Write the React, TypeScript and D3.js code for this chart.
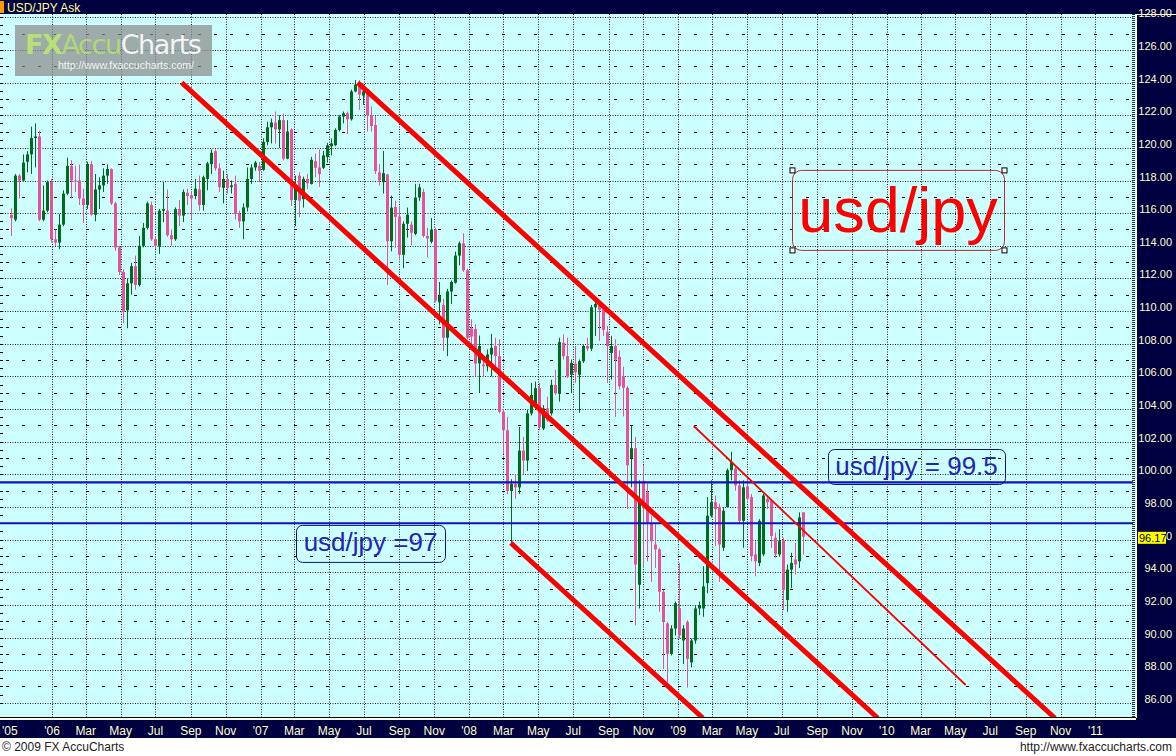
import React from 'react';
import * as d3 from 'd3';

// weekly USD/JPY ask candles, first week ending 21 Oct 2005
const firstWeek = Date.UTC(2005, 9, 21);

const opens = [
  115.9, 115.6, 118.3, 118.0, 119.15, 119.6, 120.6, 120.7, 115.6, 116.15,
  117.9, 114.4, 114.2, 115.3, 117.2, 118.9, 118.0, 118.0, 116.9, 116.5,
  119.0, 115.9, 117.45, 117.7, 118.3, 118.7, 116.6, 113.9, 112.4, 110.05,
  111.7, 112.75, 111.6, 114.0, 115.1, 116.5, 114.4, 114.0, 116.15, 116.15,
  114.65, 114.4, 116.25, 115.85, 117.25, 117.1, 117.05, 117.45, 116.5, 118.1,
  119.0, 119.8, 118.75, 117.55, 118.1, 117.6, 117.8, 115.95, 115.5, 116.35,
  118.1, 118.8, 118.9, 118.65, 120.37, 121.26, 121.55, 121.13, 121.7, 119.34,
  121.13, 116.8, 118.3, 116.86, 118.1, 117.79, 119.19, 118.8, 118.78, 119.44,
  120.1, 120.16, 121.1, 121.92, 122.12, 121.75, 123.46, 123.88, 123.2, 123.4,
  122.0, 121.4, 118.5, 117.9, 118.37, 114.28, 116.38, 115.8, 113.45, 115.35,
  115.3, 114.73, 116.96, 117.3, 114.6, 114.25, 115.0, 110.54, 110.37, 108.37,
  111.2, 111.74, 113.4, 114.15, 112.5, 108.93, 108.9, 106.8, 106.72, 106.62,
  107.34, 107.86, 107.24, 103.83, 102.7, 98.98, 99.4, 99.2, 101.45, 100.84,
  103.73, 104.24, 105.28, 102.8, 104.04, 103.73, 105.48, 104.93, 108.06, 107.24,
  106.1, 106.78, 106.1, 106.93, 107.86, 107.7, 110.23, 110.44, 110.1, 108.7,
  107.44, 107.86, 107.2, 106.0, 105.3, 100.97, 101.6, 93.23, 99.6, 98.9,
  97.05, 95.7, 95.4, 92.8, 90.86, 89.0, 90.55, 91.8, 89.82, 90.96,
  88.48, 89.82, 91.78, 91.78, 93.33, 97.46, 98.29, 98.0, 95.5, 98.0,
  100.25, 100.35, 99.32, 97.15, 99.26, 98.6, 95.09, 94.57, 95.1, 98.49,
  98.39, 96.12, 95.09, 95.95, 92.3, 94.16, 94.78, 94.67, 97.67,
];

const highs = [
  116.3, 118.4, 118.4, 119.6, 119.8, 121.3, 121.5, 121.05, 117.7, 118.0,
  118.1, 115.0, 115.95, 117.4, 119.4, 119.25, 118.9, 118.98, 117.5, 119.15,
  119.2, 118.4, 118.2, 118.75, 118.98, 118.75, 116.7, 114.0, 112.55, 112.0,
  112.95, 113.4, 114.6, 115.4, 116.7, 116.7, 114.6, 116.25, 117.9, 117.45,
  115.0, 116.35, 116.8, 117.45, 117.5, 117.3, 118.1, 118.3, 118.3, 119.15,
  119.9, 119.9, 119.05, 118.6, 118.4, 118.0, 118.3, 116.15, 116.6, 118.8,
  119.0, 119.2, 119.13, 120.58, 121.6, 121.8, 122.23, 122.0, 122.1, 121.7,
  121.2, 118.3, 118.5, 118.24, 118.4, 119.44, 119.65, 119.9, 119.81, 120.3,
  120.58, 121.2, 122.0, 122.23, 122.23, 123.57, 124.15, 124.15, 123.6, 123.46,
  122.54, 121.96, 119.0, 119.81, 118.4, 117.07, 116.76, 116.45, 115.5, 116.34,
  115.5, 117.8, 117.8, 117.5, 115.1, 115.7, 115.1, 111.78, 110.75, 111.36,
  111.88, 113.64, 114.26, 114.77, 112.6, 109.5, 109.2, 108.5, 107.24, 107.65,
  108.6, 108.37, 108.27, 104.0, 103.52, 99.7, 100.0, 102.9, 102.3, 103.94,
  105.6, 105.69, 105.6, 104.24, 104.76, 105.8, 106.4, 108.37, 108.58, 108.37,
  107.03, 107.86, 107.03, 107.96, 108.37, 110.37, 110.75, 110.64, 110.17, 109.1,
  108.48, 108.27, 107.6, 106.6, 105.4, 103.0, 102.3, 99.63, 100.56, 99.42,
  97.46, 96.94, 95.5, 92.92, 90.96, 90.75, 92.2, 94.57, 90.75, 91.06,
  89.93, 91.99, 92.2, 94.37, 98.6, 99.63, 98.7, 98.2, 97.98, 100.35,
  101.38, 100.45, 99.63, 99.63, 99.83, 98.8, 95.9, 97.25, 98.8, 98.7,
  98.49, 96.43, 96.64, 96.12, 94.47, 95.19, 95.8, 97.67, 97.67,
];

const lows = [
  114.6, 115.5, 116.9, 117.95, 118.5, 118.4, 118.8, 115.5, 115.5, 116.05,
  114.2, 114.0, 113.8, 115.2, 117.1, 116.9, 117.3, 116.5, 115.4, 116.25,
  115.85, 115.5, 116.25, 117.3, 117.8, 116.5, 113.7, 112.2, 109.25, 108.95,
  111.0, 111.3, 111.5, 113.9, 115.0, 114.3, 113.8, 113.5, 115.45, 114.55,
  114.0, 114.3, 115.2, 115.45, 116.5, 115.6, 116.85, 116.15, 116.15, 117.4,
  118.4, 118.6, 117.3, 116.6, 117.2, 117.2, 115.6, 115.1, 114.4, 116.1,
  117.8, 118.6, 117.9, 118.6, 120.16, 120.27, 120.27, 120.0, 119.23, 119.3,
  116.45, 115.2, 115.77, 116.34, 117.48, 117.75, 118.2, 117.6, 118.7, 119.1,
  119.54, 120.1, 121.0, 121.5, 120.84, 121.67, 123.4, 122.33, 122.64, 121.0,
  121.0, 118.4, 117.69, 117.2, 111.6, 113.66, 113.87, 113.1, 112.63, 114.5,
  114.03, 114.65, 116.76, 114.5, 113.3, 114.15, 110.54, 109.2, 107.55, 107.24,
  110.44, 111.68, 112.81, 112.4, 108.27, 107.86, 106.0, 104.97, 106.0, 106.3,
  106.0, 106.4, 103.73, 101.25, 98.78, 95.8, 98.5, 98.8, 100.0, 100.2,
  103.6, 104.14, 102.7, 102.7, 103.2, 103.6, 104.86, 104.45, 107.03, 105.9,
  104.97, 105.59, 103.77, 106.82, 107.55, 107.55, 108.48, 108.17, 108.48, 105.59,
  105.8, 103.52, 105.2, 103.55, 97.87, 99.2, 90.75, 91.78, 94.37, 94.67,
  93.4, 94.26, 91.58, 88.07, 87.24, 88.9, 90.13, 89.93, 88.38, 86.93,
  88.17, 89.62, 91.37, 91.27, 92.71, 97.36, 95.6, 93.4, 95.3, 97.98,
  99.63, 99.0, 96.94, 95.5, 98.39, 94.67, 93.75, 94.37, 94.98, 97.87,
  95.5, 94.88, 94.95, 91.68, 91.58, 93.02, 93.85, 94.26, 95.09,
];

const closes = [
  115.7, 118.3, 118.0, 119.1, 119.6, 120.6, 120.7, 115.6, 116.15, 117.9,
  114.4, 114.2, 115.3, 117.2, 118.9, 118.0, 117.95, 116.9, 116.5, 119.0,
  115.9, 117.45, 117.7, 118.3, 118.7, 116.6, 113.9, 112.4, 109.95, 111.7,
  112.75, 111.6, 114.0, 115.1, 116.6, 114.4, 114.0, 116.15, 116.25, 114.65,
  114.4, 116.25, 115.85, 117.3, 117.05, 116.9, 117.5, 116.5, 118.2, 119.05,
  119.7, 118.75, 117.6, 118.1, 117.55, 117.7, 115.95, 115.5, 116.35, 118.1,
  118.8, 119.1, 118.6, 120.37, 121.26, 121.55, 121.13, 121.7, 119.34, 121.0,
  116.8, 117.7, 116.76, 118.1, 117.83, 119.27, 118.78, 118.4, 119.54, 120.16,
  120.27, 121.1, 121.92, 122.12, 121.75, 123.46, 123.88, 123.26, 123.46, 122.0,
  121.34, 118.57, 118.0, 118.45, 114.28, 116.34, 115.77, 113.45, 115.35, 115.9,
  114.8, 116.96, 117.58, 114.6, 114.45, 115.0, 110.64, 110.95, 108.37, 111.2,
  111.78, 113.4, 114.15, 112.5, 108.37, 108.44, 106.78, 107.86, 106.62, 107.34,
  107.75, 107.24, 103.83, 102.7, 98.98, 99.4, 99.2, 101.45, 100.84, 103.73,
  104.86, 105.28, 102.9, 104.04, 103.3, 105.48, 104.97, 108.1, 107.24, 106.0,
  106.82, 106.25, 106.93, 107.86, 107.7, 110.23, 110.44, 110.09, 108.85, 107.86,
  107.86, 107.03, 105.4, 105.3, 100.56, 101.6, 94.47, 98.29, 98.2, 97.05,
  95.9, 95.4, 92.8, 90.96, 89.0, 90.55, 92.1, 90.13, 90.55, 88.69,
  89.82, 91.78, 91.99, 93.13, 97.46, 98.29, 97.87, 95.7, 97.77, 100.25,
  100.76, 99.32, 97.15, 99.2, 98.5, 94.98, 94.67, 97.15, 98.7, 98.29,
  96.22, 95.09, 95.9, 92.92, 94.16, 94.57, 94.47, 97.36, 96.17,
];

const lastPrice = 96.17;
const priceTicks = d3.range(86, 129, 2);
const oddTicks = d3.range(87, 128, 2);
const levels = [99.5, 97];

// drawn trend channels: [date, price] -> [date, price]
const trendLines = [
  { from: [Date.UTC(2007, 5, 20), 124.0], to: [Date.UTC(2010, 9, 22), 85.07], thick: true },
  { from: [Date.UTC(2006, 7, 16), 124.0], to: [Date.UTC(2009, 11, 16), 85.07], thick: true },
  { from: [Date.UTC(2008, 2, 14), 95.79], to: [Date.UTC(2009, 1, 13), 85.07], thick: true },
  { from: [Date.UTC(2009, 0, 28), 102.96], to: [Date.UTC(2010, 4, 19), 87.09], thick: false },
];

const notes = [
  { text: 'usd/jpy = 99.5', date: Date.UTC(2009, 8, 20), price: 101.55, w: 177, h: 35 },
  { text: 'usd/jpy =97', date: Date.UTC(2007, 2, 4), price: 96.9, w: 149, h: 37 },
];

const NAVY = '#000040';
const CREAM = '#ffffcc';
const FONT = "'Liberation Sans', Arial, sans-serif";
const UP = '#006b1a';
const DOWN = '#e8509c';

const plotTop = 14;
const plotBottom = 718;
const plotRight = 1135;

const App: React.FC = () => {
  const x = d3.scaleUtc()
    .domain([Date.UTC(2006, 0, 1), Date.UTC(2011, 0, 1)])
    .range([52, 52 + (1826 * 4) / 7]);
  const y = d3.scaleLinear().domain([86, 128]).range([702.8, 17.3]);

  const weeks = opens.map((o, i) => ({
    t: d3.utcDay.offset(new Date(firstWeek), 7 * i),
    o, h: highs[i], l: lows[i], c: closes[i],
  }));

  const monthTicks = d3.utcMonth.every(2)!.range(new Date(Date.UTC(2006, 0, 1)), new Date(Date.UTC(2011, 0, 2)));
  const fmtMonth = d3.utcFormat('%b');
  const tickLabel = (d: Date) => d.getUTCMonth() === 0 ? `'${String(d.getUTCFullYear()).slice(2)}` : fmtMonth(d);

  const leftTicks = d3.range(86, 128.01, 0.5);
  const crisp = (v: number) => Math.round(v) + 0.5;

  // big red caption box
  const capX = x(new Date(Date.UTC(2009, 6, 19)));
  const capY = y(118.65);
  const capW = 212, capH = 80;

  // the last-price tag hides most of the label underneath it
  const tagTop = y(lastPrice) - 5;
  const hiddenUnderTag = (v: number) => Math.abs(y(v) - 4 - (tagTop + 6)) < 10;

  return (
    <div>
      <style>{'body{margin:0}'}</style>
      <svg width={1176} height={756} style={{ display: 'block', background: '#fff' }} fontFamily={FONT}>
        <defs>
          <clipPath id="plot">
            <rect x={0} y={plotTop} width={plotRight} height={plotBottom - plotTop} />
          </clipPath>
        </defs>

        {/* plot background */}
        <rect x={0} y={plotTop} width={plotRight + 1} height={plotBottom - plotTop} fill="#ccffff" />

        <g clipPath="url(#plot)">
          {/* grid */}
          {monthTicks.map((d, i) => (
            <line key={'v' + i} x1={crisp(x(d))} x2={crisp(x(d))} y1={plotTop} y2={plotBottom}
              stroke="#222" strokeWidth={1} strokeDasharray="1,1.5" />
          ))}
          {priceTicks.map(v => (
            <line key={'h' + v} x1={0} x2={plotRight - 2} y1={crisp(y(v))} y2={crisp(y(v))}
              stroke="#222" strokeWidth={1} strokeDasharray="1,1.5" />
          ))}
          {oddTicks.map(v => (
            <line key={'d' + v} x1={6} x2={plotRight - 4} y1={crisp(y(v))} y2={crisp(y(v))}
              stroke="#000" strokeWidth={1} strokeDasharray="3,13" />
          ))}
          {leftTicks.map(v => (
            <line key={'lt' + v} x1={0} x2={3} y1={crisp(y(v))} y2={crisp(y(v))} stroke="#000" strokeWidth={1} />
          ))}

          {/* candles */}
          {weeks.map((d, i) => {
            const cx = Math.round(x(d.t));
            const col = d.c >= d.o ? UP : DOWN;
            const top = y(Math.max(d.o, d.c));
            const bh = Math.max(1, Math.abs(y(d.o) - y(d.c)));
            return (
              <g key={'c' + i}>
                <line x1={cx + 0.5} x2={cx + 0.5} y1={y(d.h)} y2={y(d.l)} stroke={col} strokeWidth={1} />
                <rect x={cx - 1} y={top} width={3} height={bh} fill={col} />
              </g>
            );
          })}

          {/* horizontal levels */}
          {levels.map(v => (
            <line key={'lv' + v} x1={0} x2={plotRight - 2} y1={y(v)} y2={y(v)} stroke="#1010c0" strokeWidth={2.2} />
          ))}

          {/* trend channels */}
          {trendLines.map((l, i) => (
            <line key={'tl' + i}
              x1={x(new Date(l.from[0]))} y1={y(l.from[1])}
              x2={x(new Date(l.to[0]))} y2={y(l.to[1])}
              stroke="#ff0000" strokeWidth={l.thick ? 5 : 1.8} />
          ))}
        </g>

        {/* logo */}
        <rect x={15} y={25} width={197} height={51} fill="#8a8a8a" opacity={0.72} />
        <text x={25} y={54} fontSize={27} fontFamily="'DejaVu Sans', Verdana, sans-serif" letterSpacing={-1.4}>
          <tspan fill="#b8df78" fontWeight="bold">FX</tspan>
          <tspan fill="#b0d878">Accu</tspan>
          <tspan fill="#f4f4f4">Charts</tspan>
        </text>
        <text x={58} y={69} fontSize={10.5} fill="#f4f4f4">http://www.fxaccucharts.com/</text>

        {/* level notes */}
        {notes.map((n, i) => {
          const nx = x(new Date(n.date));
          const ny = y(n.price);
          return (
            <g key={'n' + i}>
              <rect x={nx + 0.5} y={ny + 0.5} width={n.w} height={n.h} rx={6} fill="none" stroke="#101080" strokeWidth={1} />
              <text x={nx + n.w / 2} y={ny + n.h / 2 + 8} textAnchor="middle" fontSize={26} fill="#2424b4">{n.text}</text>
            </g>
          );
        })}

        {/* caption */}
        <rect x={capX + 0.5} y={capY + 0.5} width={capW} height={capH} rx={9} fill="none" stroke="#c02828" strokeWidth={1} />
        <text x={capX + capW / 2} y={capY + 62} textAnchor="middle" fontSize={63} fill="#ff0000">usd/jpy</text>
        {[[0, 0], [capW, 0], [0, capH], [capW, capH]].map(([dx, dy], i) => (
          <rect key={'hd' + i} x={capX + dx - 2} y={capY + dy - 2} width={5} height={5} fill="#fff" stroke="#000" strokeWidth={1} />
        ))}

        {/* right edge ruler */}
        <line x1={1133.5} x2={1133.5} y1={plotTop} y2={plotBottom} stroke="#333" strokeWidth={3} strokeDasharray="1,1" />

        {/* header */}
        <rect x={0} y={0} width={1176} height={plotTop} fill={NAVY} />
        <rect x={0} y={1} width={4} height={12} fill="#ff9900" />
        <text x={7} y={12} fontSize={12} fill="#ffff99">USD/JPY Ask</text>

        {/* right price panel */}
        <rect x={1136} y={plotTop} width={40} height={plotBottom - plotTop + 2} fill={NAVY} />
        <line x1={1136.5} x2={1136.5} y1={plotTop} y2={plotBottom} stroke={CREAM} strokeWidth={1} />
        <line x1={1136} x2={1176} y1={plotTop + 0.5} y2={plotTop + 0.5} stroke={CREAM} strokeWidth={1} />
        {priceTicks.map(v => (
          <text key={'pl' + v} x={1172} y={y(v)} textAnchor="end" fontSize={11} fill={CREAM}>
            {hiddenUnderTag(v) ? v.toFixed(2).slice(-1) : v.toFixed(2)}
          </text>
        ))}
        <rect x={1138} y={tagTop} width={28} height={12} fill="#ffff00" />
        <text x={1139} y={tagTop + 10} fontSize={11} fill="#000">{lastPrice.toFixed(2)}</text>

        {/* time axis */}
        <line x1={0} x2={1136} y1={plotBottom - 0.5} y2={plotBottom - 0.5} stroke="#000" strokeWidth={1} />
        <line x1={0} x2={1136} y1={plotBottom + 1.5} y2={plotBottom + 1.5} stroke={CREAM} strokeWidth={1} />
        <rect x={0} y={720} width={1176} height={18} fill={NAVY} />
        <text x={2} y={734.5} fontSize={12} fill={CREAM}>'05</text>
        {monthTicks.map((d, i) => (
          <text key={'xl' + i} x={x(d)} y={734.5} textAnchor="middle" fontSize={12} fill={CREAM}>{tickLabel(d)}</text>
        ))}

        {/* footer */}
        <text x={2} y={751} fontSize={12} fill="#222">© 2009 FX AccuCharts</text>
        <text x={1172} y={751} textAnchor="end" fontSize={12} fill="#222">http://www.fxaccucharts.com</text>
      </svg>
    </div>
  );
};

export default App;
